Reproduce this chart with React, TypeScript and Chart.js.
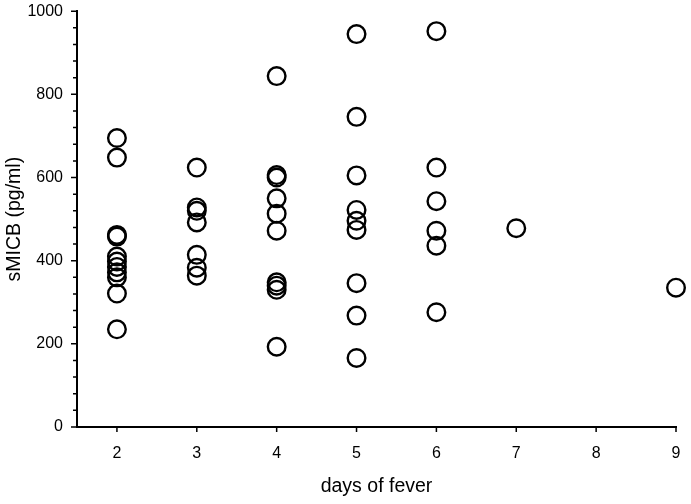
import React, { useEffect, useRef } from "react";
import { Chart, registerables } from "chart.js";

Chart.register(...registerables);

// Days of fever (x categories) and sMICB values (pg/ml) for each day
const days = [2, 3, 4, 5, 6, 7, 9];
const day2Values = [695, 648, 462, 458, 410, 398, 385, 372, 360, 321, 235];
const day3Values = [624, 528, 520, 492, 414, 383, 364];
const day4Values = [844, 606, 600, 550, 513, 472, 348, 340, 330, 193];
const day5Values = [945, 746, 605, 522, 496, 474, 346, 268, 166];
const day6Values = [952, 624, 543, 472, 436, 276];
const day7Values = [478];
const day9Values = [335];
const valuesByDay = [day2Values, day3Values, day4Values, day5Values, day6Values, day7Values, day9Values];

const xTickLabels = ["2", "3", "4", "5", "6", "7", "8", "9"];
const yMajorTicks = [0, 200, 400, 600, 800, 1000];

const FONT = "'Liberation Sans', Arial, Helvetica, sans-serif";

const tickMarks = {
  id: "tickMarks",
  afterDraw(chart: any) {
    const ctx = chart.ctx;
    const xs = chart.scales.x;
    const ys = chart.scales.y;
    ctx.save();
    ctx.strokeStyle = "#000";
    ctx.lineWidth = 1.5;
    ctx.beginPath();
    ys.ticks.forEach((t: any) => {
      const py = ys.getPixelForValue(t.value);
      const len = yMajorTicks.includes(t.value) ? 6 : 4;
      ctx.moveTo(ys.right - len, py);
      ctx.lineTo(ys.right, py);
    });
    xs.ticks.forEach((t: any) => {
      const px = xs.getPixelForValue(t.value);
      ctx.moveTo(px, xs.top);
      ctx.lineTo(px, xs.top + 5);
    });
    ctx.stroke();
    ctx.restore();
  },
};

export default function App() {
  const ref = useRef<HTMLCanvasElement | null>(null);

  useEffect(() => {
    document.body.style.margin = "0";
    const points: { x: number; y: number }[] = [];
    days.forEach((d, i) => {
      valuesByDay[i].forEach((v) => points.push({ x: d, y: v }));
    });

    const chart = new Chart(ref.current as HTMLCanvasElement, {
      type: "scatter",
      data: {
        datasets: [
          {
            data: points,
            pointStyle: "circle",
            pointRadius: 8.8,
            pointHoverRadius: 8.8,
            pointBorderWidth: 2.4,
            borderColor: "#000",
            backgroundColor: "rgba(0,0,0,0)",
            clip: false as any,
          },
        ],
      },
      options: {
        animation: false,
        responsive: false,
        maintainAspectRatio: false,
        layout: { padding: { top: 10, right: 15, left: 0, bottom: 0 } },
        plugins: {
          legend: { display: false },
          tooltip: { enabled: false },
        },
        scales: {
          x: {
            type: "linear",
            min: 1.5,
            max: 9,
            afterBuildTicks: (scale: any) => {
              scale.ticks = xTickLabels.map((l) => ({ value: Number(l) }));
            },
            afterFit: (scale: any) => {
              scale.height = 77;
              scale.paddingLeft = 0;
              scale.paddingRight = 0;
            },
            ticks: {
              color: "#000",
              font: { family: FONT, size: 16 },
              padding: 17,
              autoSkip: false,
              maxRotation: 0,
              callback: (v: any) => String(v),
            },
            grid: { display: false, drawTicks: false },
            border: { display: true, color: "#000", width: 2 },
            title: {
              display: true,
              text: "days of fever",
              color: "#000",
              font: { family: FONT, size: 19.5 },
              padding: { top: 0, bottom: 6 },
            },
          },
          y: {
            type: "linear",
            min: 0,
            max: 1000,
            afterFit: (scale: any) => {
              scale.width = 77;
              scale.paddingTop = 0;
              scale.paddingBottom = 0;
            },
            ticks: {
              stepSize: 40,
              autoSkip: false,
              color: "#000",
              font: { family: FONT, size: 16 },
              padding: 14,
              callback: (v: any) => (yMajorTicks.includes(Number(v)) ? String(v) : ""),
            },
            grid: { display: false, drawTicks: false },
            border: { display: true, color: "#000", width: 2 },
            title: {
              display: true,
              text: "sMICB (pg/ml)",
              color: "#000",
              font: { family: FONT, size: 19.5 },
              padding: { top: 3, bottom: 0 },
            },
          },
        },
      },
      plugins: [tickMarks],
    });
    return () => chart.destroy();
  }, []);

  return <canvas ref={ref} width={691} height={504} style={{ display: "block" }} />;
}
